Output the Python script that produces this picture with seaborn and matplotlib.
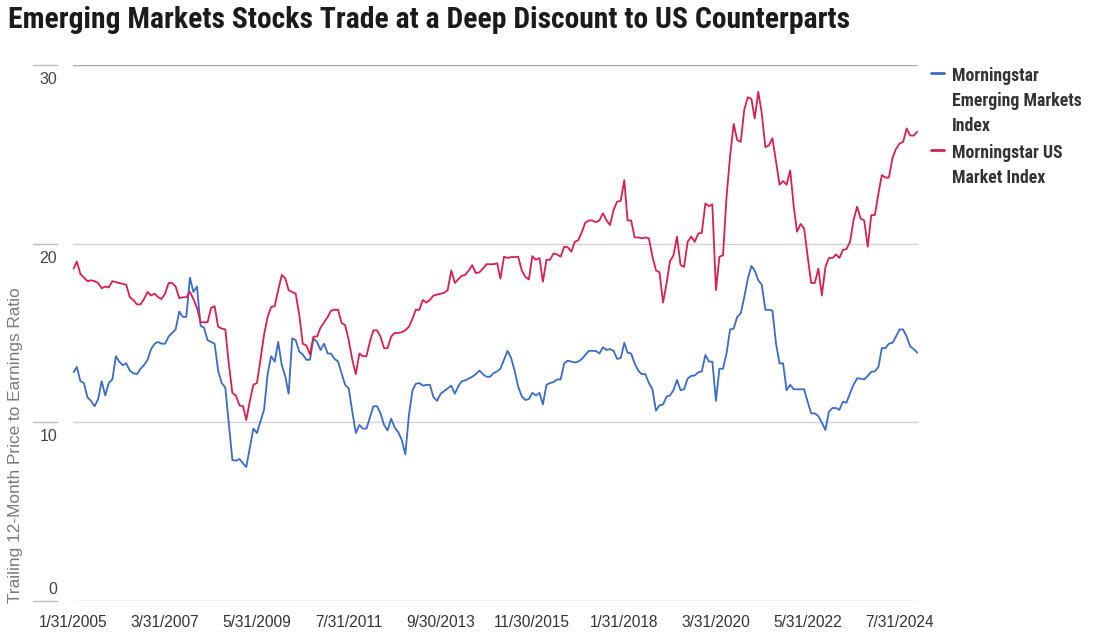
import numpy as np
import pandas as pd
import matplotlib
matplotlib.use("Agg")
import matplotlib.pyplot as plt
import seaborn as sns
from matplotlib import font_manager
from matplotlib.transforms import ScaledTranslation, blended_transform_factory
from matplotlib.lines import Line2D

# ---------------- data ----------------
months = pd.date_range("2005-01-31", periods=240, freq="ME")

em_pe = [
    12.8, 13.1, 12.3, 12.2, 11.4, 11.2, 10.9, 11.3, 12.3, 11.5, 12.2, 12.4,
    13.7, 13.4, 13.2, 13.3, 12.9, 12.75, 12.7, 13.0, 13.2, 13.5, 14.1, 14.4,
    14.5, 14.4, 14.4, 14.8, 15.0, 15.2, 16.2, 15.9, 15.9, 18.1, 17.3, 17.6,
    15.4, 15.3, 14.6, 14.5, 14.4, 12.9, 12.2, 11.95, 9.95, 7.9, 7.85, 7.95,
    7.7, 7.5, 8.6, 9.65, 9.4, 10.05, 10.7, 12.7, 13.7, 13.4, 14.5, 13.2,
    12.55, 11.6, 14.7, 14.6, 13.95, 13.8, 13.5, 13.5, 14.7, 14.5, 14.05, 14.4,
    13.85, 13.85, 13.55, 13.4, 12.75, 12.1, 11.9, 10.6, 9.4, 9.85, 9.65, 9.65,
    10.3, 10.9, 10.9, 10.5, 9.85, 9.55, 10.2, 9.7, 9.45, 9.0, 8.2, 10.4,
    11.8, 12.15, 12.2, 12.05, 12.1, 12.1, 11.4, 11.2, 11.6, 11.75, 11.9, 12.05,
    11.6, 12.0, 12.3, 12.35, 12.45, 12.55, 12.7, 12.9, 12.7, 12.55, 12.55, 12.75,
    12.85, 13.0, 13.5, 14.0, 13.6, 12.9, 12.0, 11.45, 11.25, 11.3, 11.65, 11.5,
    11.65, 11.0, 12.1, 12.2, 12.25, 12.4, 12.4, 13.3, 13.45, 13.4, 13.35, 13.4,
    13.55, 13.77, 14.0, 14.0, 14.0, 13.85, 14.2, 14.05, 14.1, 14.0, 13.55, 13.6,
    14.45, 13.9, 13.85, 13.3, 12.9, 12.7, 12.7, 12.2, 11.85, 10.65, 10.95, 11.0,
    11.45, 11.5, 11.8, 12.37, 11.8, 11.85, 12.45, 12.6, 12.62, 12.8, 12.85, 13.77,
    13.4, 13.4, 11.2, 13.0, 13.0, 13.85, 15.2, 15.25, 15.9, 16.1, 17.0, 18.05,
    18.75, 18.5, 17.95, 17.7, 16.3, 16.3, 16.25, 14.4, 13.3, 13.3, 11.8, 12.1,
    11.85, 11.85, 11.85, 11.85, 11.15, 10.5, 10.5, 10.35, 9.98, 9.57, 10.6, 10.8,
    10.8, 10.7, 11.15, 11.1, 11.62, 12.1, 12.46, 12.45, 12.4, 12.6, 12.83, 12.85,
    13.1, 14.15, 14.15, 14.4, 14.45, 14.8, 15.2, 15.2, 14.8, 14.25, 14.1, 13.9,
]

us_pe = [
    18.6, 19.0, 18.3, 18.1, 17.9, 17.95, 17.9, 17.8, 17.5, 17.6, 17.55, 17.9,
    17.85, 17.8, 17.75, 17.7, 17.0, 16.85, 16.6, 16.6, 16.9, 17.3, 17.1, 17.2,
    17.0, 16.9, 17.2, 17.8, 17.8, 17.6, 16.95, 17.0, 17.0, 17.3, 16.9, 16.4,
    15.6, 15.6, 15.6, 16.4, 16.5, 15.35, 15.25, 15.2, 13.3, 11.65, 11.5, 10.95,
    10.9, 10.13, 11.2, 12.1, 12.2, 13.5, 14.9, 15.9, 16.45, 16.5, 17.4, 18.25,
    18.05, 17.4, 17.3, 17.2, 16.0, 14.4, 14.3, 13.8, 14.8, 14.8, 15.3, 15.6,
    15.9, 16.25, 16.3, 16.3, 15.55, 15.45, 14.6, 13.5, 12.7, 13.85, 13.7, 13.7,
    14.55, 15.15, 15.15, 14.8, 14.15, 14.15, 14.8, 15.0, 15.0, 15.05, 15.15, 15.35,
    15.8, 16.3, 16.3, 16.85, 16.7, 16.85, 17.1, 17.15, 17.2, 17.25, 17.4, 18.5,
    17.8, 18.0, 18.2, 18.25, 18.5, 18.8, 18.35, 18.4, 18.6, 18.85, 18.85, 18.85,
    18.9, 18.05, 19.27, 19.2, 19.25, 19.25, 19.27, 18.5, 18.15, 18.0, 19.3, 19.1,
    19.2, 17.87, 19.1, 19.1, 19.45, 19.4, 19.27, 19.83, 19.8, 19.55, 20.1, 20.2,
    20.67, 21.17, 21.3, 21.3, 21.2, 21.3, 21.7, 21.3, 21.04, 21.9, 22.35, 22.4,
    23.56, 21.3, 21.3, 20.35, 20.35, 20.3, 20.35, 20.3, 19.3, 18.5, 18.4, 16.7,
    17.8, 19.0, 19.35, 20.4, 18.8, 18.7, 20.1, 20.4, 20.1, 20.57, 20.6, 22.25,
    22.1, 22.2, 17.4, 19.27, 19.35, 22.6, 24.9, 26.7, 25.8, 25.7, 27.5, 28.2,
    28.1, 27.0, 28.5, 27.3, 25.4, 25.5, 25.9, 24.6, 23.3, 23.5, 23.3, 24.1,
    22.07, 20.67, 21.1, 20.85, 19.27, 17.8, 17.8, 18.6, 17.1, 18.7, 19.2, 19.2,
    19.4, 19.2, 19.65, 19.7, 20.1, 21.3, 22.07, 21.4, 21.3, 19.83, 21.6, 21.6,
    22.8, 23.84, 23.7, 23.7, 24.8, 25.3, 25.6, 25.7, 26.45, 26.05, 26.05, 26.27,
]

series_names = ["Morningstar Emerging Markets Index", "Morningstar US Market Index"]
legend_labels = ["Morningstar\nEmerging Markets\nIndex", "Morningstar US\nMarket Index"]
series_colors = ["#3A6BC7", "#D7204F"]

xtick_dates = ["2005-01-31", "2007-03-31", "2009-05-31", "2011-07-31", "2013-09-30",
               "2015-11-30", "2018-01-31", "2020-03-31", "2022-05-31", "2024-07-31"]
xtick_labels = ["1/31/2005", "3/31/2007", "5/31/2009", "7/31/2011", "9/30/2013",
                "11/30/2015", "1/31/2018", "3/31/2020", "5/31/2022", "7/31/2024"]
yticks = [0, 10, 20, 30]
ytick_labels = ["0", "10", "20", "30"]

title = "Emerging Markets Stocks Trade at a Deep Discount to US Counterparts"
ylabel = "Trailing 12-Month Price to Earnings Ratio"

# ---------------- style ----------------
sns.set_theme(style="white")
available = {f.name for f in font_manager.fontManager.ttflist}
def pick(*cands):
    for c in cands:
        if c in available:
            return c
    return "DejaVu Sans"
narrow = pick("Liberation Sans Narrow", "Roboto Condensed", "Liberation Sans")
regular = pick("Liberation Sans", "Roboto", "DejaVu Sans")
plt.rcParams["font.family"] = [regular, "DejaVu Sans"]

W, H = 1093, 640
fig = plt.figure(figsize=(W / 100, H / 100), dpi=100)
ax = fig.add_axes([73 / W, 39 / H, 845 / W, 536 / H])

df = pd.DataFrame({
    "date": np.concatenate([months.values, months.values]),
    "pe": em_pe + us_pe,
    "series": [series_names[0]] * len(months) + [series_names[1]] * len(months),
})
sns.lineplot(data=df, x="date", y="pe", hue="series", hue_order=series_names,
             palette=series_colors, linewidth=1.3, ax=ax, legend=False)

ax.set_ylim(0, 30)
ax.set_xlim(pd.Timestamp("2005-01-26"), pd.Timestamp("2025-01-06"))
for s in ax.spines.values():
    s.set_visible(False)

ax.set_yticks(yticks)
ax.set_yticklabels([])
ax.yaxis.grid(True, color="#d3d3d3", linewidth=1)
ax.xaxis.grid(False)
ax.get_ygridlines()[-1].set_color("#a9a9a9")
ax.tick_params(axis="y", length=0)

ax.set_xticks(pd.to_datetime(xtick_dates))
ax.set_xticklabels(xtick_labels)
ax.tick_params(axis="x", length=0, pad=10, labelsize=11.2, labelcolor="#333333")
ax.set_xlabel("")
ax.set_ylabel("")

blend = blended_transform_factory(ax.transAxes, ax.transData)
for v, lab in zip(yticks, ytick_labels):
    ax.plot([-0.0473, -0.0189], [v, v], transform=blend, color="#bdbdbd",
            linewidth=1, clip_on=False)
    if v == yticks[0]:
        off, va = 3 / 72, "bottom"
    else:
        off, va = -5 / 72, "top"
    ax.text(-0.0189, v, lab, transform=blend + ScaledTranslation(0, off, fig.dpi_scale_trans),
            ha="right", va=va, fontsize=11.5, color="#444444")

fig.text(16 / W, 1 - 603 / H, ylabel, rotation=90, ha="center", va="bottom",
         fontsize=12.4, color="#7a7a7a")

fig.text(8 / W, 1 - 20 / H, title, ha="left", va="center", fontsize=21.3,
         fontweight="bold", color="#1b1b1b", family=[narrow, "DejaVu Sans"])

handles = [Line2D([], [], color=c, linewidth=2) for c in series_colors]
leg = ax.legend(handles, legend_labels, loc="upper left",
                bbox_to_anchor=(931 / W, 1 - 67 / H), bbox_transform=fig.transFigure,
                frameon=False, handlelength=0.75, handletextpad=0.45,
                labelspacing=0.5, borderpad=0, borderaxespad=0,
                prop={"family": [narrow, "DejaVu Sans"], "weight": "bold", "size": 12.8})
for t in leg.get_texts():
    t.set_color("#333333")
    t.set_linespacing(1.5)
try:
    for col in leg._legend_handle_box.get_children():
        for item in col.get_children():
            item.align = "top"
except Exception:
    pass

fig.savefig("out.png", dpi=100)
